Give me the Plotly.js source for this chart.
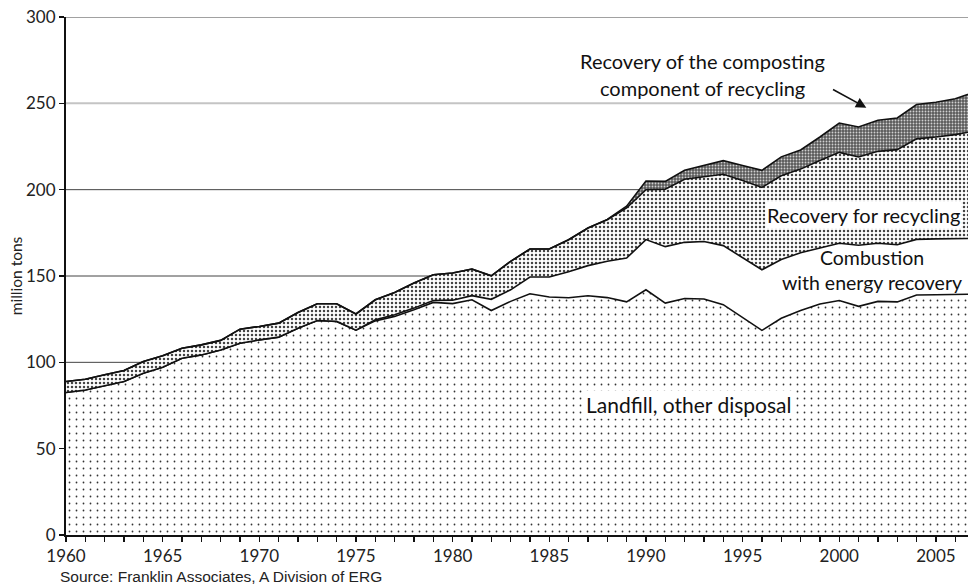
<!DOCTYPE html>
<html><head><meta charset="utf-8">
<script src="https://cdn.plot.ly/plotly-3.0.1.min.js"></script>
<style>html,body{margin:0;padding:0;background:#fff}#chart{width:968px;height:586px}</style>
</head><body><div id="chart"></div>
<script>
const years = [1960,1961,1962,1963,1964,1965,1966,1967,1968,1969,
  1970,1971,1972,1973,1974,1975,1976,1977,1978,1979,
  1980,1981,1982,1983,1984,1985,1986,1987,1988,1989,
  1990,1991,1992,1993,1994,1995,1996,1997,1998,1999,
  2000,2001,2002,2003,2004,2005,2006,2007];
const landfill = [82.5,84,86.4,88.9,93.7,97.2,102.4,104.3,107.2,111.1,
  113,114.6,119.8,124.2,123.7,118.6,124,126.6,130.4,134.7,
  134,136.2,130,135.3,139.7,137.8,137.4,138.6,137.5,135,
  142,134.3,137,136.7,133.4,126,118.5,125.5,130,133.8,
  135.8,132.4,135.3,135,139,139.1,139.2,139.5];
const combustion = [0,0,0,0,0,0,0,0,0,0,
  0,0,0,0,0,0,0.6,0.9,1.0,1.1,
  2,2.4,6.5,6.7,9.7,11.6,15.1,17.4,21,25.4,
  29.1,32.7,32.5,33.3,34.2,34.8,35.1,34,33.5,32.4,
  33.2,35.4,33.7,33.1,32.2,32.4,32.5,32.3];
const recycling = [6.4,6.2,6.4,6.4,6.8,6.6,5.8,5.8,5.5,8.1,
  7.8,8.1,9.1,9.7,10.2,9.4,11.6,13,14.5,14.9,
  15.7,15.4,13.6,16.5,16.2,16.2,18.5,21.8,24.1,29,
  28.9,33.2,36.5,37.6,41.3,44.5,47.7,48.5,48.4,50.7,
  52.6,51.1,53.2,55.1,58.2,59,60.2,62.2];
const composting = [0,0,0,0,0,0,0,0,0,0,
  0,0,0,0,0,0,0,0,0,0,
  0,0,0,0,0,0,0,0,0.2,1,
  5,4.6,5.2,6.4,7.9,8.7,9.9,11,11.1,13.6,
  17,17.4,18,18.3,19.9,20.1,20.7,22.5];
const yTicks = [0,50,100,150,200,250,300];
const labels = {
  composting1: 'Recovery of the composting',
  composting2: 'component of recycling',
  recycling: 'Recovery for recycling',
  combustion: 'Combustion<br>with energy recovery',
  landfill: 'Landfill, other disposal',
  source: 'Source: Franklin Associates, A Division of ERG',
  yTitle: 'million tons'
};

const lineStyle = {color:'#111', width:1.6, shape:'linear'};
const traces = [
  {x:years, y:landfill, name:'Landfill', stackgroup:'a', mode:'lines', line:lineStyle,
   fillcolor:'white',
   fillpattern:{shape:'.', bgcolor:'white', fgcolor:'#333', size:7, solidity:0.05, fillmode:'replace'}},
  {x:years, y:combustion, name:'Combustion', stackgroup:'a', mode:'lines', line:lineStyle,
   fillcolor:'white'},
  {x:years, y:recycling, name:'Recycling', stackgroup:'a', mode:'lines', line:lineStyle,
   fillcolor:'white',
   fillpattern:{shape:'.', bgcolor:'white', fgcolor:'#444', size:4, solidity:0.3, fillmode:'replace'}},
  {x:years, y:composting, name:'Composting', stackgroup:'a', mode:'lines', line:lineStyle,
   fillcolor:'#5a5a5a',
   fillpattern:{shape:'.', bgcolor:'#5a5a5a', fgcolor:'#d0d0d0', size:3, solidity:0.3, fillmode:'replace'}}
];

const gridShapes = yTicks.filter(v => v > 0).map(v => ({
  type:'line', xref:'paper', x0:0, x1:1, yref:'y', y0:v, y1:v, layer:'below',
  line:{color: v === 250 ? '#c4c4c4' : '#444', width: v === 250 ? 2 : 1}
}));

const txt = {family:'Lato, "Open Sans", sans-serif', size:20, color:'#111'};
const layout = {
  width:968, height:586,
  margin:{l:66, r:0, t:17, b:51, pad:0},
  paper_bgcolor:'white', plot_bgcolor:'white',
  showlegend:false, hovermode:false,
  font:{family:'Lato, sans-serif', color:'#222'},
  xaxis:{range:[1960, 2006.66], tick0:1960, dtick:5, ticks:'outside', ticklen:5, tickwidth:1.2,
    tickcolor:'#111', showline:true, linecolor:'#111', linewidth:1.5, showgrid:false, zeroline:false,
    tickfont:{family:'Lato, sans-serif', size:17, color:'#222'},
    minor:{dtick:1, ticks:'outside', ticklen:5, tickwidth:1.2, tickcolor:'#111', showgrid:false}},
  yaxis:{range:[0,300], tickvals:yTicks, ticks:'outside', ticklen:5, tickwidth:1.2, tickcolor:'#111',
    showline:true, linecolor:'#111', linewidth:2, showgrid:false,
    zeroline:false, tickfont:{family:'Lato, sans-serif', size:17, color:'#222'},
    title:{text:labels.yTitle, font:{family:'Lato, sans-serif', size:15.5, color:'#222'}, standoff:0}},
  shapes: gridShapes,
  annotations:[
    {x:1992.9, y:274.5, xref:'x', yref:'y', text:labels.composting1, showarrow:false, font:txt},
    {x:1992.9, y:258.8, xref:'x', yref:'y', text:labels.composting2, showarrow:false, font:txt},
    {x:2001.4, y:247.5, ax:1999.6, ay:258.5, xref:'x', yref:'y', axref:'x', ayref:'y', text:'',
     showarrow:true, arrowhead:2, arrowsize:1.3, arrowwidth:1.6, arrowcolor:'#111'},
    {x:2001.25, y:185.5, xref:'x', yref:'y', text:labels.recycling, showarrow:false, font:txt,
     bgcolor:'white', borderpad:1},
    {x:2001.7, y:153.3, xref:'x', yref:'y', text:labels.combustion, showarrow:false,
     font:{family:txt.family, size:19.5, color:'#111'}},
    {x:1992.2, y:75.4, xref:'x', yref:'y', text:labels.landfill, showarrow:false,
     font:{family:txt.family, size:21, color:'#111'}, bgcolor:'white', borderpad:1},
    {x:-0.009, y:-0.081, xref:'paper', yref:'paper', xanchor:'left', yanchor:'middle',
     text:labels.source, showarrow:false,
     font:{family:'"Liberation Sans", Arial, sans-serif', size:15.5, color:'#222'}}
  ]
};
Plotly.newPlot('chart', traces, layout, {displayModeBar:false, staticPlot:true});
</script></body></html>
